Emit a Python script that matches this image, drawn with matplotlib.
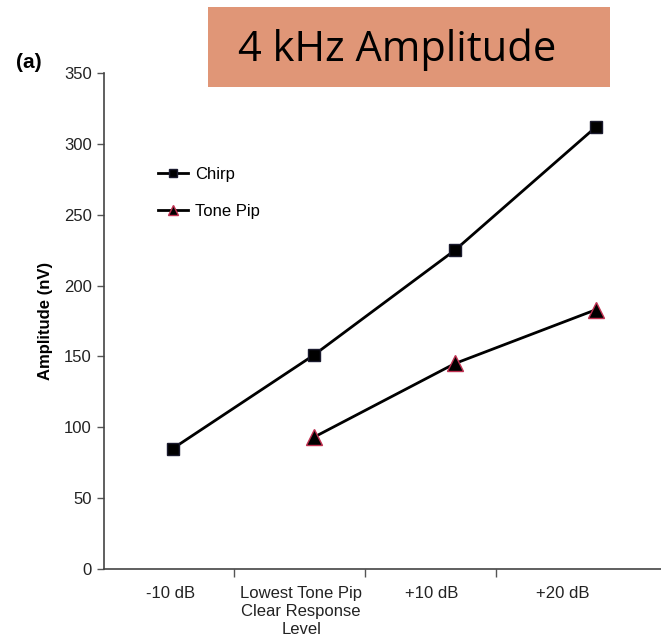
import numpy as np
import matplotlib
matplotlib.use("Agg")
import matplotlib.pyplot as plt
from matplotlib.patches import Rectangle

# Data
categories = ["-10 dB", "Lowest Tone Pip\nClear Response\nLevel", "+10 dB", "+20 dB"]
chirp_x = [0, 1, 2, 3]
chirp_amp = [85, 151, 225, 312]
tone_x = [1, 2, 3]
tone_amp = [93, 145, 183]
y_ticks = [0, 50, 100, 150, 200, 250, 300, 350]

plt.rcParams['font.family'] = ['Liberation Sans', 'DejaVu Sans']

fig = plt.figure(figsize=(6.61, 6.4), dpi=100)
ax = fig.add_axes([0.157, 0.111, 0.843, 0.775])

ax.plot(chirp_x, chirp_amp, color='black', lw=2, marker='s', ms=9,
        mfc='black', mec='#1a1a2e', label='Chirp')
ax.plot(tone_x, tone_amp, color='black', lw=2, marker='^', ms=11,
        mfc='black', mec='#c03050', mew=1, label='Tone Pip')

ax.set_ylim(0, 350)
ax.set_yticks(y_ticks)
ax.set_xlim(-0.49, 3.46)

# labels sit a little left of the points in the original; tick marks between them
step = 0.929
label_pos = [-0.02 + step * i for i in range(4)]
mark_pos = [0.433 + step * i for i in range(3)]
ax.set_xticks(mark_pos)
ax.set_xticklabels([])
ax.set_xticks(label_pos, minor=True)
ax.set_xticklabels(categories, minor=True, fontsize=12, color='#222222', linespacing=1.25)
ax.tick_params(axis='x', which='minor', length=0, pad=12)
ax.tick_params(axis='x', which='major', length=6, width=1, color='#555555')
ax.tick_params(axis='y', length=5, width=1, color='#555555', labelsize=12, labelcolor='#222222')

for s in ['top', 'right']:
    ax.spines[s].set_visible(False)
for s in ['left', 'bottom']:
    ax.spines[s].set_color('#444444')
    ax.spines[s].set_linewidth(1.2)

ax.set_ylabel('Amplitude (nV)', fontsize=12, fontweight='bold', labelpad=8)

leg = ax.legend(loc='upper left', bbox_to_anchor=(0.071, 0.84), frameon=False,
                fontsize=12, handlelength=1.8, handletextpad=0.4, labelspacing=1.3,
                markerscale=0.6)

fig.text(0.043, 0.902, '(a)', fontsize=15, fontweight='bold', ha='center', va='center')

# title box
fig.patches.append(Rectangle((208 / 661, 1 - 87 / 640), 402 / 661, 80 / 640,
                             transform=fig.transFigure, facecolor='#e09677',
                             edgecolor='none', zorder=0))
fig.text(238 / 661, 1 - 50 / 640, '4 kHz Amplitude', fontsize=30, family='Open Sans',
         ha='left', va='center', color='black')

fig.savefig('out.png', dpi=100)
